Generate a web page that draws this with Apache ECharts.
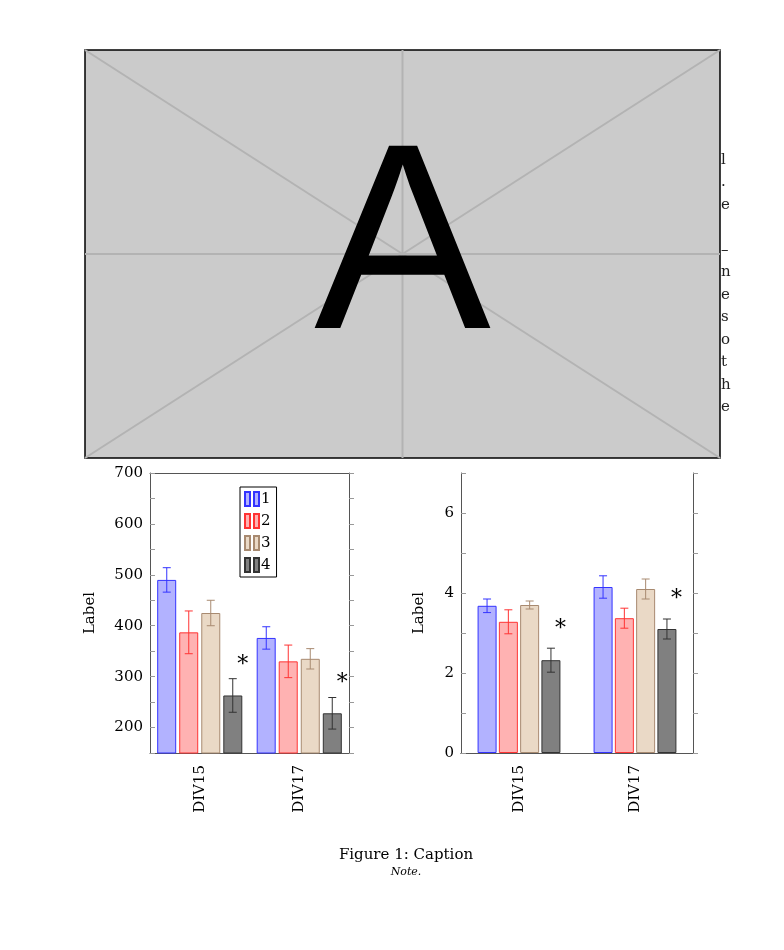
<!DOCTYPE html>
<html>
<head>
<meta charset="utf-8">
<script src="https://cdn.jsdelivr.net/npm/echarts@6/dist/echarts.min.js"></script>
<style>
  html, body { margin: 0; padding: 0; background: #fff; }
  #main { width: 784px; height: 950px; }
</style>
</head>
<body>
<div id="main"></div>
<script>
const categories = ['DIV15', 'DIV17']
const seriesNames = ['1', '2', '3', '4']

// left chart: mean and error per series, [DIV15, DIV17]
const leftMeans = [[490, 376], [387, 330], [425, 335], [263, 228]]
const leftErrs = [[24, 22], [42, 32], [25, 20], [33, 31]]
const leftStars = [322, 287]
const leftTicks = [200, 300, 400, 500, 600, 700]

// right chart
const rightMeans = [[3.68, 4.15], [3.28, 3.37], [3.70, 4.10], [2.32, 3.10]]
const rightErrs = [[0.17, 0.28], [0.30, 0.25], [0.10, 0.25], [0.30, 0.25]]
const rightStars = [3.1, 3.85]
const rightTicks = [0, 2, 4, 6]

const fills = ['rgba(0,0,255,0.3)', 'rgba(255,0,0,0.3)', '#ead9c6', '#808080']
const strokes = ['#3333ff', '#ff3333', '#a88a70', '#333333']

const FONT = '"DejaVu Serif", "Liberation Serif", serif'
const BAR_W = 19

const chart = echarts.init(document.getElementById('main'))

function errSeries(gridIdx, means, errs, i, gap) {
  const data = categories.map((c, k) => [k, means[i][k], errs[i][k]])
  return {
    type: 'custom',
    xAxisIndex: gridIdx * 2, yAxisIndex: gridIdx * 2,
    z: 5, silent: true,
    data: data,
    renderItem: function (params, api) {
      const k = api.value(0), m = api.value(1), e = api.value(2)
      const off = (i - 1.5) * (BAR_W + gap)
      const top = api.coord([k, m + e]), bot = api.coord([k, m - e])
      const x = top[0] + off
      const st = { stroke: strokes[i], lineWidth: 1 }
      return {
        type: 'group', children: [
          { type: 'line', shape: { x1: x, y1: top[1], x2: x, y2: bot[1] }, style: st },
          { type: 'line', shape: { x1: x - 4, y1: top[1], x2: x + 4, y2: top[1] }, style: st },
          { type: 'line', shape: { x1: x - 4, y1: bot[1], x2: x + 4, y2: bot[1] }, style: st }
        ]
      }
    }
  }
}

function starSeries(gridIdx, stars, gap) {
  return {
    type: 'custom',
    xAxisIndex: gridIdx * 2, yAxisIndex: gridIdx * 2,
    z: 6, silent: true,
    data: stars.map((v, k) => [k, v]),
    renderItem: function (params, api) {
      const p = api.coord([api.value(0), api.value(1)])
      const x = p[0] + 2 * (BAR_W + gap) - 1
      return { type: 'text', x: x, y: p[1], style: { text: '*', font: '22px ' + FONT, fill: '#000', align: 'center', verticalAlign: 'middle' } }
    }
  }
}

function barSeries(gridIdx, means, i, gapPct) {
  return {
    name: seriesNames[i],
    type: 'bar',
    xAxisIndex: gridIdx * 2, yAxisIndex: gridIdx * 2,
    barWidth: BAR_W, barGap: gapPct,
    data: means[i],
    itemStyle: { color: fills[i], borderColor: strokes[i], borderWidth: 1 }
  }
}

function axesFor(gridIdx, min, max, interval, nameGap, ticks) {
  const x = [
    { type: 'category', gridIndex: gridIdx, data: categories, position: 'bottom',
      axisLine: { lineStyle: { color: '#555' } },
      axisTick: { alignWithLabel: true, length: 5, lineStyle: { color: '#999' } },
      axisLabel: { rotate: 90, color: '#000', fontFamily: FONT, fontSize: 15, margin: 12 } },
    { type: 'category', gridIndex: gridIdx, data: categories, position: 'top',
      axisLine: { lineStyle: { color: '#555' } },
      axisTick: { alignWithLabel: true, length: 5, lineStyle: { color: '#999' } },
      axisLabel: { show: false } }
  ]
  const y = [
    { type: 'value', gridIndex: gridIdx, min: min, max: max, interval: interval, position: 'left',
      name: 'Label', nameLocation: 'middle', nameGap: nameGap,
      nameTextStyle: { fontFamily: FONT, fontSize: 15, color: '#000' },
      axisLine: { show: true, lineStyle: { color: '#555' } },
      axisTick: { show: true, inside: true, length: 5, lineStyle: { color: '#999' } },
      splitLine: { show: false },
      axisLabel: { color: '#000', fontFamily: FONT, fontSize: 15, margin: 7,
        formatter: v => ticks.indexOf(v) >= 0 ? String(v) : '' } },
    { type: 'value', gridIndex: gridIdx, min: min, max: max, interval: interval, position: 'right',
      axisLine: { show: true, lineStyle: { color: '#555' } },
      axisTick: { show: true, length: 5, lineStyle: { color: '#999' } },
      splitLine: { show: false }, axisLabel: { show: false } }
  ]
  return { x, y }
}

const a0 = axesFor(0, 150, 700, 50, 52, leftTicks)
const a1 = axesFor(1, 0, 7, 1, 34, rightTicks)

const series = []
for (let i = 0; i < 4; i++) series.push(barSeries(0, leftMeans, i, '16%'))
for (let i = 0; i < 4; i++) series.push(errSeries(0, leftMeans, leftErrs, i, 3))
series.push(starSeries(0, leftStars, 3))
for (let i = 0; i < 4; i++) series.push(barSeries(1, rightMeans, i, '12%'))
for (let i = 0; i < 4; i++) series.push(errSeries(1, rightMeans, rightErrs, i, 2.3))
series.push(starSeries(1, rightStars, 2.3))

// placeholder image and caption
const IX = 85, IY = 50, IW = 635, IH = 408
const lineGray = { stroke: '#b3b3b3', lineWidth: 2 }
const sideText = ['l', '.', 'e', '', '–', 'n', 'e', 's', 'o', 't', 'h', 'e']
const graphic = [
  { type: 'rect', shape: { x: IX, y: IY, width: IW, height: IH }, style: { fill: '#cbcbcb', stroke: '#000', lineWidth: 1.5 } },
  { type: 'line', shape: { x1: IX, y1: IY, x2: IX + IW, y2: IY + IH }, style: lineGray },
  { type: 'line', shape: { x1: IX, y1: IY + IH, x2: IX + IW, y2: IY }, style: lineGray },
  { type: 'line', shape: { x1: IX + IW / 2, y1: IY, x2: IX + IW / 2, y2: IY + IH }, style: lineGray },
  { type: 'line', shape: { x1: IX, y1: IY + IH / 2, x2: IX + IW, y2: IY + IH / 2 }, style: lineGray },
  { type: 'text', x: IX + IW / 2, y: 255, style: { text: 'A', font: '265px "Liberation Sans", sans-serif', fill: '#000', align: 'center', verticalAlign: 'middle' } },
  { type: 'text', x: 406, y: 855, style: { text: 'Figure 1: Caption', font: '15px ' + FONT, fill: '#000', align: 'center', verticalAlign: 'middle' } },
  { type: 'text', x: 406, y: 872, style: { text: 'Note.', font: 'italic 11px ' + FONT, fill: '#000', align: 'center', verticalAlign: 'middle' } }
]
sideText.forEach((t, k) => {
  if (t) graphic.push({ type: 'text', x: 721, y: 160 + k * 22.5, style: { text: t, font: '15px ' + FONT, fill: '#222', align: 'left', verticalAlign: 'middle' } })
})

chart.setOption({
  animation: false,
  graphic: graphic,
  legend: {
    data: seriesNames, orient: 'vertical', left: 240, top: 487,
    itemWidth: 14, itemHeight: 14, itemGap: 6,
    icon: 'path://M0,0h5v14h-5z M9,0h5v14h-5z',
    padding: [4, 6, 4, 4],
    borderColor: '#000', borderWidth: 1, backgroundColor: '#fff',
    textStyle: { fontFamily: FONT, fontSize: 15, color: '#000', padding: [0, 0, 0, -3] }
  },
  grid: [
    { left: 150, top: 473, width: 199, height: 280 },
    { left: 461, top: 473, width: 232, height: 280 }
  ],
  xAxis: a0.x.concat(a1.x),
  yAxis: a0.y.concat(a1.y),
  series: series
})
</script>
</body>
</html>
